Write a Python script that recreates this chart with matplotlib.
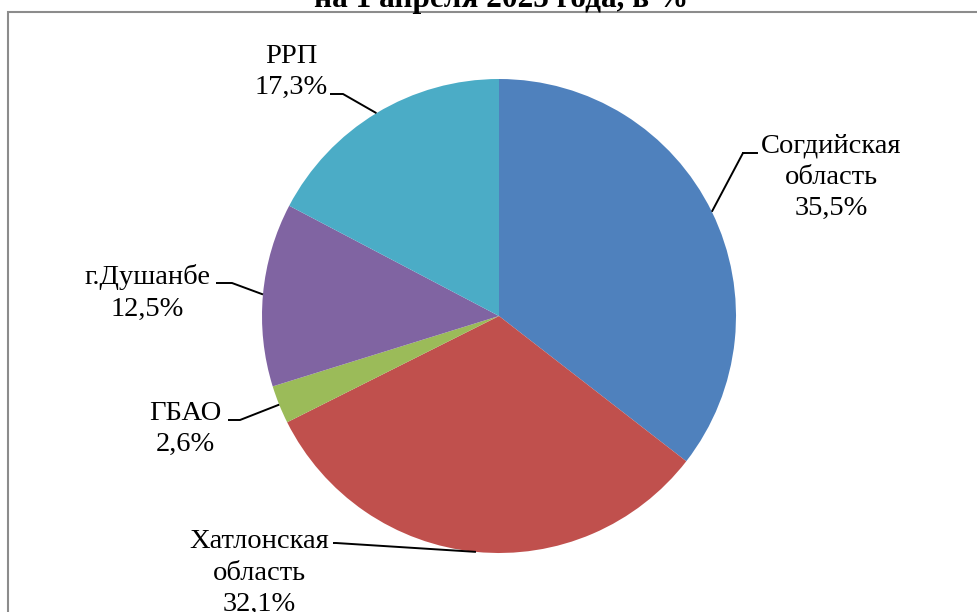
import numpy as np
import matplotlib.pyplot as plt
from matplotlib.patches import Rectangle

# Data
regions = ['Согдийская\nобласть', 'Хатлонская\nобласть', 'ГБАО', 'г.Душанбе', 'РРП']
shares = [35.5, 32.1, 2.6, 12.5, 17.3]
colors = ['#4F81BD', '#C0504D', '#9BBB59', '#8064A2', '#4BACC6']
title = 'на 1 апреля 2025 года, в %'

W, H = 977, 612
plt.rcParams['font.family'] = ['Liberation Serif', 'DejaVu Serif']

fig = plt.figure(figsize=(W / 100, H / 100), dpi=100)
ax = fig.add_axes([0, 0, 1, 1])

cx, cy, r = 499, H - 316, 237
wedges, _ = ax.pie(shares, colors=colors, startangle=90, counterclock=False,
                   center=(cx, cy), radius=r, frame=True,
                   wedgeprops=dict(linewidth=0))
ax.set_xlim(0, W)
ax.set_ylim(0, H)
ax.set_aspect('equal')
ax.axis('off')

# label layout in pixel coords (from top-left): text center, first line y,
# text-side end of leader and its elbow
layout = [
    dict(tx=831, ty=145, end=(745, 153), elbow=(743, 153)),
    dict(tx=259, ty=541, end=(333, 543), elbow=(336, 543)),
    dict(tx=185, ty=413, end=(228, 420), elbow=(240, 420)),
    dict(tx=147, ty=277, end=(216, 283), elbow=(232, 283)),
    dict(tx=291, ty=56, end=(330, 94), elbow=(343, 94)),
]

step = 32
for w, name, val, lay in zip(wedges, regions, shares, layout):
    mid = np.deg2rad((w.theta1 + w.theta2) / 2)
    px = cx + r * np.cos(mid)
    py = cy + r * np.sin(mid)
    label = name + '\n' + f'{val:.1f}'.replace('.', ',') + '%'
    nlines = label.count('\n') + 1
    ymid = lay['ty'] + step * (nlines - 1) / 2
    ax.text(lay['tx'], H - ymid, label, ha='center', va='center',
            fontsize=20.5, linespacing=1.34, color='black')
    xs = [lay['end'][0], lay['elbow'][0], px]
    ys = [H - lay['end'][1], H - lay['elbow'][1], py]
    ax.plot(xs, ys, color='black', lw=1.4, solid_capstyle='butt')

# Согдийская leader has its short horizontal tick on the text side
ax.plot([743, 757], [H - 153, H - 153], color='black', lw=1.4)

# outer frame (partly outside the picture)
fig.patches.append(Rectangle((8 / W, -0.05), 1.1, (H - 12) / H + 0.05,
                             transform=fig.transFigure, fill=False,
                             edgecolor='#8C8C8C', lw=1.5))

fig.text(501 / W, 1 - 7 / H, title, ha='center', va='baseline',
         fontsize=22.5, fontweight='bold')

fig.savefig('out.png', dpi=100)
